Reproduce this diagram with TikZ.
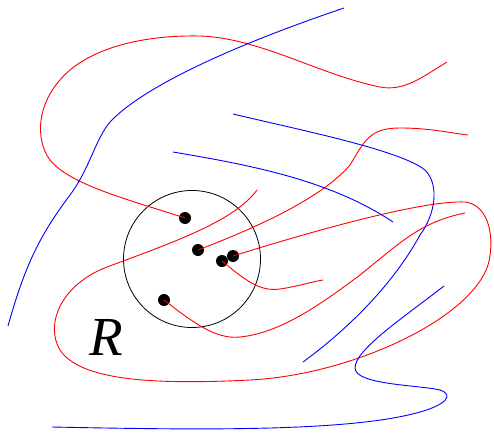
\documentclass[tikz,border=0pt]{standalone}
\usepackage{fontspec}
\newfontfamily\labfont{Liberation Serif}
\begin{document}
\begin{tikzpicture}[x=1pt,y=-1pt,
  rcurve/.style={red,line width=0.9pt},
  bcurve/.style={blue,line width=0.9pt},
  dotnode/.style={circle,fill=black,inner sep=0pt,minimum size=12pt}]
\useasboundingbox (0,0) rectangle (494,433);
% region circle
\node[draw=black,line width=0.8pt,circle,minimum size=137pt,inner sep=0pt] (reg) at (192,259) {};
% points
\node[dotnode] (d1) at (185,218) {};
\node[dotnode] (d2) at (198,250) {};
\node[dotnode] (d3) at (233,256) {};
\node[dotnode] (d4) at (222,261) {};
\node[dotnode] (d5) at (164,300) {};
\node[inner sep=0pt] (lab) at (106,337) {\labfont\itshape\fontsize{55}{55}\selectfont R};
% red curves
\draw[rcurve] (d1.center) .. controls (130,200) and (70,185) .. (50,160)
  .. controls (35,140) and (35,100) .. (70,70)
  .. controls (100,45) and (150,35) .. (200,36)
  .. controls (260,38) and (320,75) .. (380,87)
  .. controls (405,92) and (425,75) .. (447,62);
\draw[rcurve] (d2.center) .. controls (250,230) and (320,200) .. (350,165)
  .. controls (365,140) and (370,128) .. (400,128)
  .. controls (430,128) and (450,133) .. (468,135);
\draw[rcurve] (257,190) .. controls (235,220) and (180,240) .. (107,267)
  .. controls (60,285) and (45,325) .. (60,350)
  .. controls (80,380) and (150,385) .. (250,380)
  .. controls (350,375) and (470,320) .. (488,265)
  .. controls (495,240) and (490,205) .. (465,202)
  .. controls (420,200) and (300,235) .. (d3.center);
\draw[rcurve] (d4.center) .. controls (245,280) and (260,292) .. (280,289)
  .. controls (300,286) and (310,282) .. (323,280);
\draw[rcurve] (d5.center) .. controls (190,320) and (215,340) .. (240,337)
  .. controls (280,333) and (320,305) .. (360,275)
  .. controls (400,243) and (420,222) .. (465,213);
% blue curves
\draw[bcurve] (8,326) .. controls (25,265) and (40,235) .. (70,195)
  .. controls (90,168) and (95,140) .. (110,122)
  .. controls (140,90) and (220,50) .. (344,8);
\draw[bcurve] (233,114) .. controls (300,130) and (400,150) .. (425,170)
  .. controls (440,185) and (435,215) .. (420,235)
  .. controls (390,290) and (340,335) .. (303,362);
\draw[bcurve] (173,152) .. controls (250,165) and (330,180) .. (393,222);
\draw[bcurve] (444,286) .. controls (400,320) and (355,350) .. (355,368)
  .. controls (355,385) and (420,385) .. (440,390)
  .. controls (455,395) and (445,405) .. (420,412)
  .. controls (350,432) and (200,430) .. (52,427);
\end{tikzpicture}
\end{document}
